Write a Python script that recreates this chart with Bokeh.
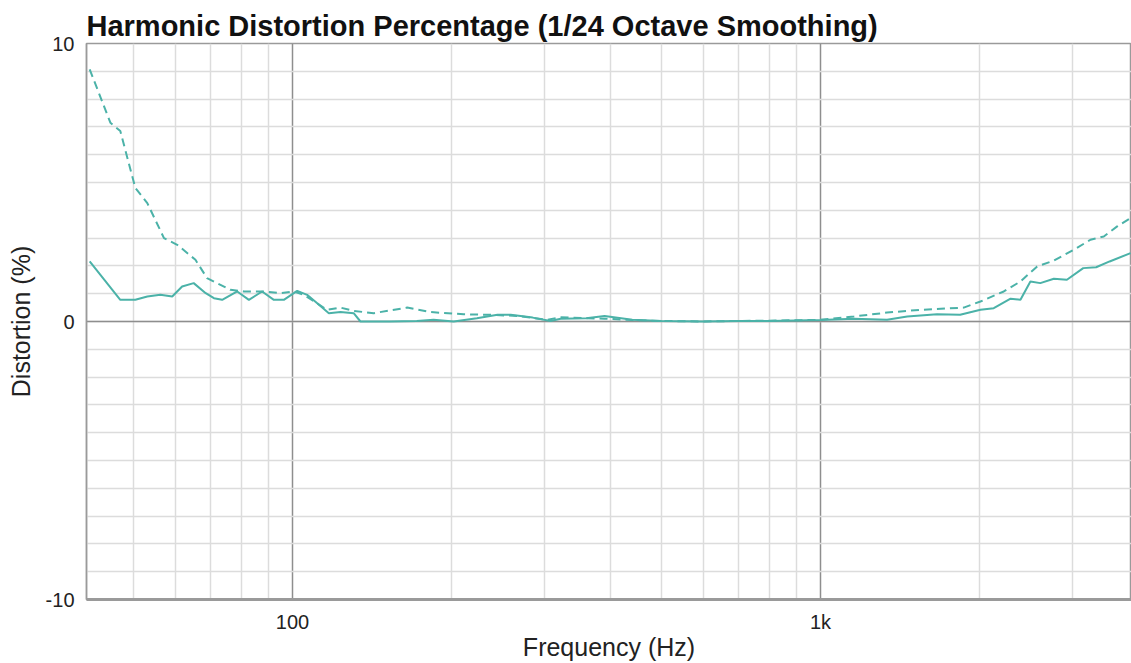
from bokeh.plotting import figure
from bokeh.models import FixedTicker, Range1d
from bokeh.embed import file_html
from bokeh.resources import INLINE

# Dashed series (frequency Hz, distortion %)
dashed_freq = [41.3, 45.2, 47.2, 50.4, 53.1, 57.1, 60.5, 65.5, 68.9, 76.3, 80.9, 88.2, 94.9, 100.6,
               105.1, 116.3, 123.3, 130.6, 142.5, 164.9, 182.5, 211, 237, 266.5, 303.5, 321.8,
               360, 390, 440, 500, 600, 700, 800, 1000, 1157, 1337, 1546, 1868, 2009, 2224,
               2392, 2573, 2767, 3019, 3246, 3440, 3647, 3866]
dashed_val = [9.07, 7.15, 6.85, 4.80, 4.26, 3.0, 2.76, 2.22, 1.56, 1.14, 1.08, 1.08, 1.02, 1.08,
              0.96, 0.42, 0.50, 0.38, 0.30, 0.50, 0.34, 0.26, 0.24, 0.20, 0.06, 0.15,
              0.12, 0.10, 0.05, 0.02, 0.0, 0.02, 0.03, 0.06, 0.18, 0.32, 0.42, 0.50, 0.72, 1.08,
              1.44, 1.98, 2.19, 2.58, 2.94, 3.06, 3.42, 3.72]

# Solid series
solid_freq = [41.3, 47.2, 50.4, 53.1, 56.2, 59.2, 61.8, 65.0, 68.5, 71.0, 73.6, 78.6, 82.7, 87.6,
              92.2, 96.3, 100.6, 102.1, 106.6, 111.4, 117.2, 123.3, 130.6, 134.5, 153, 172, 185,
              202, 223.5, 244.5, 259, 285, 308, 322, 360, 390, 440, 500, 600, 700, 800, 1000,
              1157, 1337, 1460, 1662, 1839, 2009, 2129, 2291, 2392, 2498, 2608, 2767, 2929,
              3145, 3327, 3529, 3866]
solid_val = [2.16, 0.78, 0.78, 0.90, 0.96, 0.90, 1.26, 1.38, 1.02, 0.84, 0.78, 1.08, 0.78, 1.08,
             0.78, 0.78, 1.02, 1.10, 0.96, 0.66, 0.30, 0.34, 0.30, 0.0, 0.0, 0.02, 0.06,
             0.0, 0.12, 0.24, 0.24, 0.14, 0.02, 0.10, 0.12, 0.20, 0.06, 0.02, 0.0, 0.02, 0.02, 0.05,
             0.10, 0.06, 0.18, 0.26, 0.24, 0.42, 0.48, 0.82, 0.78, 1.44, 1.38, 1.54, 1.50,
             1.92, 1.95, 2.16, 2.46]

x_major = [100, 1000]
x_minor = [50, 60, 70, 80, 90, 200, 300, 400, 500, 600, 700, 800, 900, 2000, 3000]
x_labels = {100: "100", 1000: "1k"}
y_major = [-10, 0, 10]
y_minor = list(range(-10, 11))
y_labels = {-10: "-10", 0: "0", 10: "10"}

FONT = "Liberation Sans"
TEAL = "#4bb2a8"

p = figure(width=1131, height=663, x_axis_type="log", output_backend="svg",
           toolbar_location=None, x_range=Range1d(40.73, 3882), y_range=Range1d(-10, 10),
           min_border_left=86, min_border_right=0, min_border_top=43, min_border_bottom=63)

p.title.text = "Harmonic Distortion Percentage (1/24 Octave Smoothing)"
p.title.text_font = FONT
p.title.text_font_size = "29px"
p.title.text_font_style = "bold"
p.title.text_color = "#111111"
p.title.offset = 0
p.title.standoff = 4

p.outline_line_color = "#9a9a9a"
p.outline_line_width = 1.5
p.background_fill_color = "white"
p.border_fill_color = "white"

p.xaxis.ticker = FixedTicker(ticks=x_major, minor_ticks=x_minor)
p.yaxis.ticker = FixedTicker(ticks=y_major, minor_ticks=y_minor)
p.xaxis.major_label_overrides = x_labels
p.yaxis.major_label_overrides = y_labels

for ax in (p.xaxis, p.yaxis):
    ax.major_tick_line_color = None
    ax.minor_tick_line_color = None
    ax.axis_line_color = "#9a9a9a"
    ax.major_label_text_font = FONT
    ax.major_label_text_font_size = "20px"
    ax.major_label_text_color = "#222222"
    ax.axis_label_text_font = FONT
    ax.axis_label_text_font_size = "25px"
    ax.axis_label_text_font_style = "normal"
    ax.axis_label_text_color = "#222222"

p.xaxis.axis_line_width = 3
p.yaxis.axis_line_width = 1.5
p.xaxis.axis_label = "Frequency (Hz)"
p.yaxis.axis_label = "Distortion (%)"
p.xaxis.major_label_standoff = 5
p.xaxis.axis_label_standoff = -3
p.yaxis.major_label_standoff = 6
p.yaxis.axis_label_standoff = 8

for g in (p.xgrid, p.ygrid):
    g.grid_line_color = "#8e8e8e"
    g.grid_line_width = 1.5
    g.minor_grid_line_color = "#dcdcdc"
    g.minor_grid_line_width = 1.5

p.line(solid_freq, solid_val, line_color=TEAL, line_width=2)
p.line(dashed_freq, dashed_val, line_color=TEAL, line_width=2, line_dash="8 5")

open("out.html", "w").write(file_html(p, INLINE))
